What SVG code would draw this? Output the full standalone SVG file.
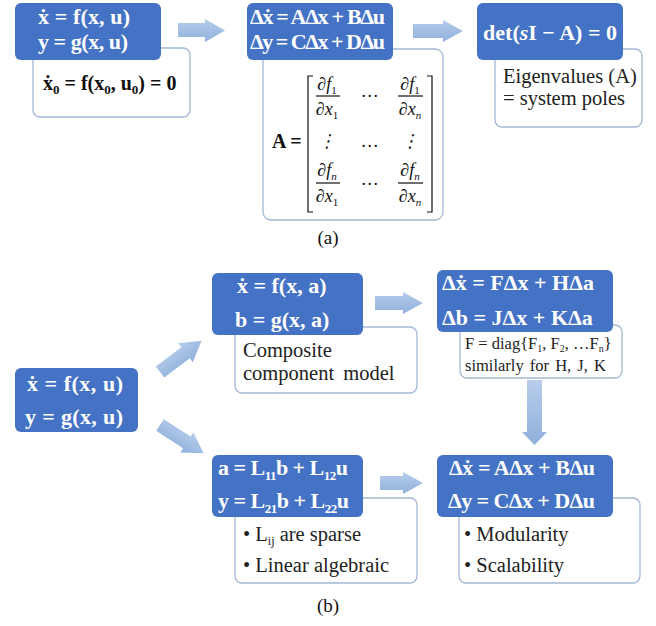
<svg xmlns="http://www.w3.org/2000/svg" width="656" height="626" viewBox="0 0 656 626" font-family="Liberation Serif, DejaVu Serif, serif">
<defs>
<linearGradient id="ag" x1="0" y1="0" x2="0" y2="1">
<stop offset="0" stop-color="#b7cdea"/>
<stop offset="1" stop-color="#8fb0dc"/>
</linearGradient>
<style>
.blue{fill:#4472c4;}
.wbox{fill:#fff;stroke:#a3b8d4;stroke-width:1.3;}
.eq{font-weight:bold;font-size:22px;fill:#fff;}
.eqk{font-weight:bold;font-size:20px;fill:#111;}
.txt{font-size:20.5px;fill:#222;}
.sm{font-size:16.5px;fill:#222;}
.mx{font-style:italic;font-size:18px;fill:#111;}
.lbl{font-size:19px;fill:#111;}
.arr{fill:url(#ag);}
.ln{stroke:#111;stroke-width:1.2;fill:none;}
</style>
</defs>
<rect width="656" height="626" fill="#fff"/>

<g id="connectors">
<path class="arr" d="M178,23 H205 V19 L225,30.5 L205,42 V37 H178 Z"/>
<path class="arr" d="M413,24 H443 V20 L463,31 L443,42 V38 H413 Z"/>
<path class="arr" d="M375,296 H403 V292 L423,303 L403,314 V310 H375 Z"/>
<path class="arr" d="M380,476 H403 V472 L423,483 L403,494 V490 H380 Z"/>
<path class="arr" d="M527,380 H542 V432 H547 L534.5,445 L522,432 H527 Z"/>
<path class="arr" d="M0,-7 H32 V-12 L52,0 L32,12 V7 H0 Z" transform="translate(160,372) rotate(-37)"/>
<path class="arr" d="M0,-7 H32 V-12 L52,0 L32,12 V7 H0 Z" transform="translate(160,425) rotate(33)"/>
</g>

<g id="n1">
<rect class="wbox" x="33" y="48" width="157" height="69" rx="7"/>
<rect class="blue" x="15" y="3" width="146" height="57" rx="6"/>
<text class="eq" x="38" y="24" font-size="23" textLength="92" lengthAdjust="spacing">ẋ = f(x, u)</text>
<text class="eq" x="38" y="49" font-size="23" textLength="90" lengthAdjust="spacing">y = g(x, u)</text>
<text class="eqk" x="43" y="90">ẋ<tspan font-size="13" dy="4">0</tspan><tspan dy="-4"> = f(x</tspan><tspan font-size="13" dy="4">0</tspan><tspan dy="-4">, u</tspan><tspan font-size="13" dy="4">0</tspan><tspan dy="-4">) = 0</tspan></text>
</g>

<g id="n2">
<rect class="wbox" x="263" y="49" width="180" height="171" rx="8"/>
<rect class="blue" x="247" y="3" width="146" height="57" rx="6"/>
<text class="eq" x="250" y="24" font-size="21" textLength="135" lengthAdjust="spacing">Δẋ = AΔx + BΔu</text>
<text class="eq" x="250" y="49" font-size="21" textLength="135" lengthAdjust="spacing">Δy = CΔx + DΔu</text>
<text class="eqk" x="272" y="148">A =</text>
<path class="ln" d="M313,76 H308 V212 H313"/>
<path class="ln" d="M427,76 H432 V212 H427"/>
<text class="mx" x="327" y="90" text-anchor="middle">∂f<tspan font-size="11" font-style="normal" dy="4">1</tspan></text>
<line class="ln" x1="316" y1="96" x2="340" y2="96"/>
<text class="mx" x="327" y="115" text-anchor="middle">∂x<tspan font-size="11" font-style="normal" dy="4">1</tspan></text>
<text class="mx" x="410" y="90" text-anchor="middle">∂f<tspan font-size="11" font-style="normal" dy="4">1</tspan></text>
<line class="ln" x1="398" y1="96" x2="423" y2="96"/>
<text class="mx" x="410" y="115" text-anchor="middle">∂x<tspan font-size="11" dy="4">n</tspan></text>
<text class="mx" x="370" y="97" text-anchor="middle" font-style="normal">…</text>
<text class="mx" x="327" y="147" text-anchor="middle" font-style="normal">⋮</text>
<text class="mx" x="370" y="147" text-anchor="middle" font-style="normal">…</text>
<text class="mx" x="410" y="147" text-anchor="middle" font-style="normal">⋮</text>
<text class="mx" x="327" y="176" text-anchor="middle">∂f<tspan font-size="11" dy="4">n</tspan></text>
<line class="ln" x1="316" y1="183" x2="340" y2="183"/>
<text class="mx" x="327" y="202" text-anchor="middle">∂x<tspan font-size="11" font-style="normal" dy="4">1</tspan></text>
<text class="mx" x="410" y="176" text-anchor="middle">∂f<tspan font-size="11" dy="4">n</tspan></text>
<line class="ln" x1="398" y1="183" x2="423" y2="183"/>
<text class="mx" x="410" y="202" text-anchor="middle">∂x<tspan font-size="11" dy="4">n</tspan></text>
<text class="mx" x="370" y="185" text-anchor="middle" font-style="normal">…</text>
</g>

<g id="n3">
<rect class="wbox" x="495" y="49" width="147" height="78" rx="7"/>
<rect class="blue" x="477" y="3" width="146" height="57" rx="6"/>
<text class="eq" x="550" y="40" text-anchor="middle" font-weight="normal" font-size="22">det(<tspan font-style="italic">s</tspan><tspan font-weight="bold">I</tspan> − <tspan font-weight="bold">A</tspan>) = 0</text>
<text class="txt" x="503" y="83">Eigenvalues (A)</text>
<text class="txt" x="503" y="105">= system poles</text>
</g>

<text class="lbl" x="328" y="244" text-anchor="middle">(a)</text>

<g id="n4">
<rect class="blue" x="15" y="368" width="123" height="64" rx="6"/>
<text class="eq" x="27" y="391" font-size="24" textLength="96" lengthAdjust="spacing">ẋ = f(x, u)</text>
<text class="eq" x="25" y="424" font-size="24" textLength="98" lengthAdjust="spacing">y = g(x, u)</text>
</g>

<g id="n5">
<rect class="wbox" x="235" y="327" width="182" height="66" rx="7"/>
<rect class="blue" x="212" y="273" width="151" height="62" rx="6"/>
<text class="eq" x="237" y="293">ẋ = f(x, a)</text>
<text class="eq" x="235" y="327">b = g(x, a)</text>
<text class="txt" x="243" y="357">Composite</text>
<text class="txt" x="243" y="380" word-spacing="4">component model</text>
</g>

<g id="n6">
<rect class="wbox" x="460" y="325" width="162" height="53" rx="7"/>
<rect class="blue" x="437" y="270" width="176" height="62" rx="6"/>
<text class="eq" x="442" y="290">Δẋ = FΔx + HΔa</text>
<text class="eq" x="442" y="325">Δb = JΔx + KΔa</text>
<text class="sm" x="465" y="349">F = diag{F<tspan font-size="10" dy="3">1</tspan><tspan dy="-3">, F</tspan><tspan font-size="10" dy="3">2</tspan><tspan dy="-3">, …F</tspan><tspan font-size="10" dy="3">n</tspan><tspan dy="-3">}</tspan></text>
<text class="sm" x="465" y="371" word-spacing="2">similarly for H, J, K</text>
</g>

<g id="n7">
<rect class="wbox" x="235" y="498" width="182" height="85" rx="7"/>
<rect class="blue" x="212" y="455" width="151" height="62" rx="6"/>
<text class="eq" x="218" y="475" font-size="21" textLength="130" lengthAdjust="spacing">a = L<tspan font-size="13" dy="5">11</tspan><tspan dy="-5">b + L</tspan><tspan font-size="13" dy="5">12</tspan><tspan dy="-5">u</tspan></text>
<text class="eq" x="218" y="508" font-size="21" textLength="131" lengthAdjust="spacing">y = L<tspan font-size="13" dy="5">21</tspan><tspan dy="-5">b + L</tspan><tspan font-size="13" dy="5">22</tspan><tspan dy="-5">u</tspan></text>
<text class="txt" x="243" y="541">• L<tspan font-size="12" dy="4">ij</tspan><tspan dy="-4"> are sparse</tspan></text>
<text class="txt" x="243" y="572">• Linear algebraic</text>
</g>

<g id="n8">
<rect class="wbox" x="459" y="498" width="181" height="85" rx="7"/>
<rect class="blue" x="437" y="455" width="176" height="62" rx="6"/>
<text class="eq" x="449" y="475" textLength="146" lengthAdjust="spacing">Δẋ = AΔx + BΔu</text>
<text class="eq" x="448" y="508" textLength="147" lengthAdjust="spacing">Δy = CΔx + DΔu</text>
<text class="txt" x="464" y="541">• Modularity</text>
<text class="txt" x="464" y="572">• Scalability</text>
</g>

<text class="lbl" x="328" y="612" text-anchor="middle">(b)</text>
</svg>
